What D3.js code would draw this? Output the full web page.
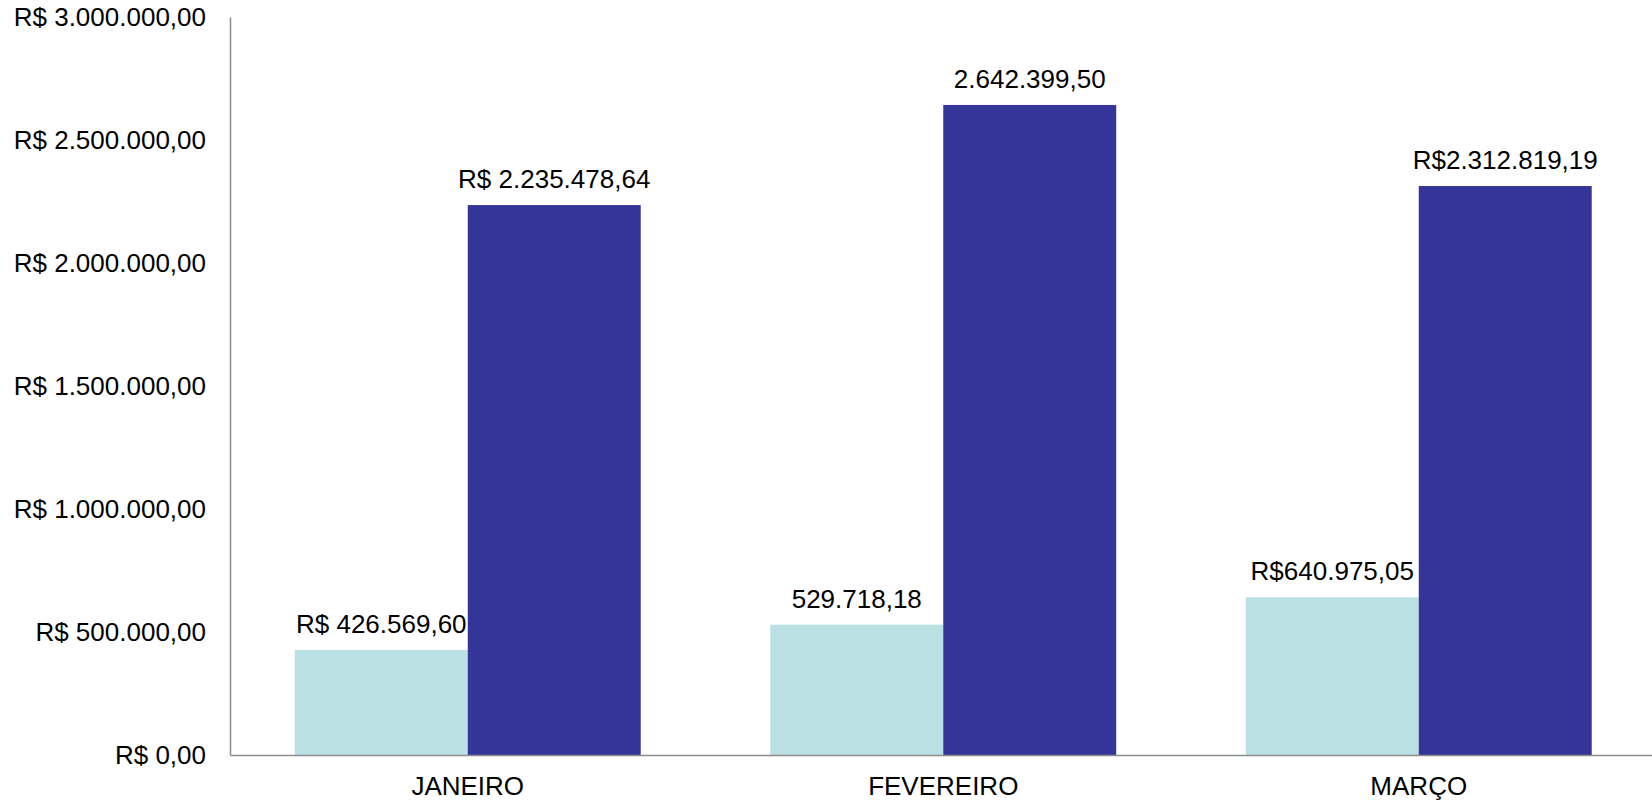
<!DOCTYPE html>
<html>
<head>
<meta charset="utf-8">
<script src="https://cdn.jsdelivr.net/npm/d3@7"></script>
<style>
  html, body { margin: 0; padding: 0; background: #ffffff; }
  svg { display: block; }
  text { font-family: "Liberation Sans", Arial, sans-serif; fill: #000; }
</style>
</head>
<body>
<svg id="chart" width="1652" height="807"></svg>
<script>
const categories = ["JANEIRO", "FEVEREIRO", "MARÇO"];
const seriesA = [426569.60, 529718.18, 640975.05];
const seriesB = [2235478.64, 2642399.50, 2312819.19];
const labelsA = ["R$ 426.569,60", "529.718,18", "R$640.975,05"];
const labelsB = ["R$ 2.235.478,64", "2.642.399,50", "R$2.312.819,19"];
const yTicks = [0, 500000, 1000000, 1500000, 2000000, 2500000, 3000000];
const yTickLabels = ["R$ 0,00", "R$ 500.000,00", "R$ 1.000.000,00", "R$ 1.500.000,00",
                     "R$ 2.000.000,00", "R$ 2.500.000,00", "R$ 3.000.000,00"];

const colorA = "#bbe0e3";
const colorB = "#353498";

const svg = d3.select("#chart");
const mLeft = 230, mTop = 17, mBottom = 755, mRight = 1656.5;

const x = d3.scaleBand().domain(categories).range([mLeft, mRight]).paddingInner(0.2725).paddingOuter(0.13625);
const sub = d3.scaleBand().domain(["A", "B"]).range([0, x.bandwidth()]);
const y = d3.scaleLinear().domain([0, 3000000]).range([mBottom, mTop]);

const data = categories.map((c, i) => ({c, a: seriesA[i], b: seriesB[i], la: labelsA[i], lb: labelsB[i]}));

// bars
const g = svg.append("g");
data.forEach(d => {
  [["A", d.a, colorA, d.la], ["B", d.b, colorB, d.lb]].forEach(([k, v, col, lab]) => {
    const bx = x(d.c) + sub(k);
    g.append("rect")
      .attr("x", bx).attr("y", y(v))
      .attr("width", sub.bandwidth()).attr("height", y(0) - y(v))
      .attr("fill", col);
    g.append("text")
      .attr("x", bx + sub.bandwidth() / 2)
      .attr("y", y(v) - 17)
      .attr("text-anchor", "middle")
      .attr("font-size", 26)
      .text(lab);
  });
});

// y axis
const yAxis = d3.axisLeft(y).tickValues(yTicks).tickSize(0).tickPadding(24)
  .tickFormat((d, i) => yTickLabels[i]);
const yg = svg.append("g").attr("transform", `translate(${mLeft},0)`).call(yAxis);
yg.select(".domain").attr("stroke", "#8c8c8c").attr("stroke-width", 1.5);
yg.selectAll("text").attr("font-size", 26).attr("font-family", "Liberation Sans, Arial, sans-serif").attr("fill", "#000");

// x axis
const xAxis = d3.axisBottom(x).tickSize(0).tickPadding(22);
const xg = svg.append("g").attr("transform", `translate(0,${mBottom})`).call(xAxis);
xg.select(".domain").attr("stroke", "#8c8c8c").attr("stroke-width", 1.5);
xg.selectAll("text").attr("font-size", 26).attr("font-family", "Liberation Sans, Arial, sans-serif").attr("fill", "#000");
</script>
</body>
</html>
